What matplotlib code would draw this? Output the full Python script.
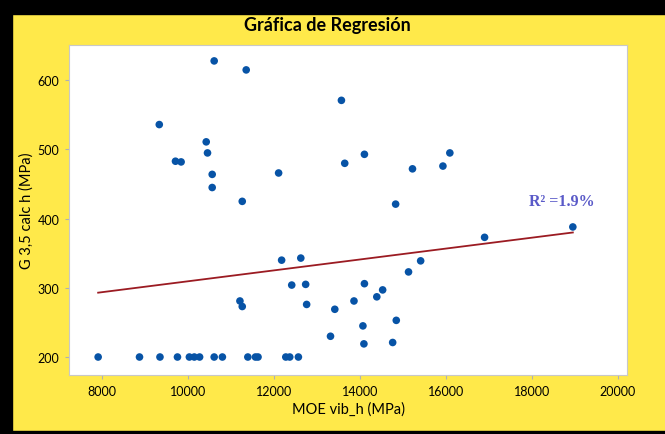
import numpy as np
import matplotlib.pyplot as plt
from matplotlib.patches import Rectangle

# values
moe_vib = [7908, 8870, 9346, 9753, 10030, 10145, 10268,
           10607, 10798, 11390, 11567, 11627, 12273, 12365, 12566,
           9330, 9707, 9838, 10422, 10452, 10561, 10561, 10607, 11352,
           11260, 12106, 13567, 13644, 12176, 12622, 12411, 12735, 12758,
           11206, 11260, 13413, 13313,
           14102, 15220, 15928, 16089, 14828, 16897, 15410, 15128, 14102,
           14526, 14390, 13859, 14843, 14067, 14090, 14759, 18950]
g_calc = [200, 200, 200, 200, 200, 200, 200,
          200, 200, 200, 200, 200, 200, 200, 200,
          536, 483, 482, 511, 495, 464, 445, 628, 615,
          425, 466, 571, 480, 340, 343, 304, 305, 276,
          281, 273, 269, 230,
          493, 472, 476, 495, 421, 373, 339, 323, 306,
          297, 287, 281, 253, 245, 219, 221, 388]

# fitted line as shown in the chart (ends)
fit_x = [7908, 18950]
fit_y = [293, 380]
r2_label = "R² =1.9%"

x_ticks = [8000, 10000, 12000, 14000, 16000, 18000, 20000]
y_ticks = [200, 300, 400, 500, 600]

yellow = '#ffe94a'
fig = plt.figure(figsize=(6.65, 4.35), dpi=100, facecolor=yellow)

# black frame on the top, left and bottom edges
W, H = 665, 435
for (x0, y0, w, h) in [(0, H - 15, W, 15), (0, 0, 12, H), (0, 0, W, 3)]:
    fig.patches.append(Rectangle((x0 / W, y0 / H), w / W, h / H,
                                 transform=fig.transFigure, color='black', zorder=1))

ax = fig.add_axes([69 / W, 59 / H, (627 - 69) / W, (376 - 46) / H])
ax.set_facecolor('white')

ax.scatter(moe_vib, g_calc, s=30, color='#0753a6', zorder=3, edgecolors='none')
ax.plot(fit_x, fit_y, color='#9b1b22', lw=1.3, zorder=2)

ax.text(18700, 425, r2_label, ha='center', va='center', color='#5a5ac8',
        fontsize=11.5, fontweight='bold', family='Liberation Serif')

ax.set_xlim(7230, 20210)
ax.set_ylim(174, 651)
ax.set_xticks(x_ticks)
ax.set_yticks(y_ticks)
ax.tick_params(labelsize=9, length=3, color='#b0b0b0', pad=4)
for lab in ax.get_xticklabels() + ax.get_yticklabels():
    lab.set_family('Lato')
for sp in ax.spines.values():
    sp.set_color('#c8c8c8')

ax.set_xlabel('MOE vib_h (MPa)', fontsize=10.5, family='Lato', labelpad=3)
ax.set_ylabel('G 3,5 calc h (MPa)', fontsize=10.5, family='Lato', labelpad=3)
fig.text(0.493, 1 - 25 / H, 'Gráfica de Regresión', ha='center', va='center',
         fontsize=13, fontweight='bold', family='Lato', zorder=5)

fig.savefig('out.png', dpi=100, facecolor=yellow)
